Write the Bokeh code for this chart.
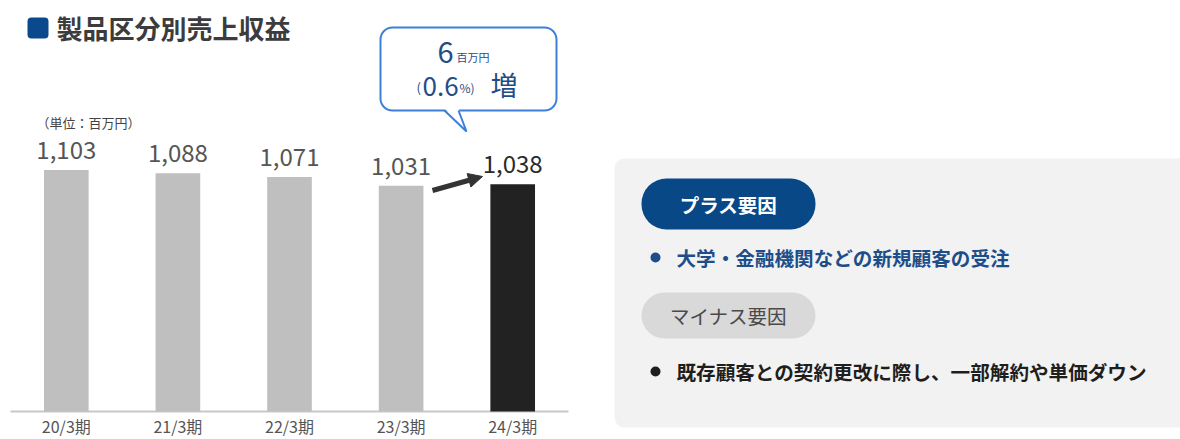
from bokeh.plotting import figure
from bokeh.models import (ColumnDataSource, Range1d, Label, FixedTicker,
                          BoxAnnotation, Arrow, NormalHead)
from bokeh.core.properties import value
from bokeh.embed import file_html
from bokeh.resources import INLINE

# ---------------- data ----------------
periods = ["20/3期", "21/3期", "22/3期", "23/3期", "24/3期"]
revenue = [1103, 1088, 1071, 1031, 1038]
title_text = "製品区分別売上収益"
unit_text = "（単位：百万円）"
change_amount = "6"
change_unit = "百万円"
change_pct = "0.6"
change_word = "増"
plus_label = "プラス要因"
plus_items = ["大学・金融機関などの新規顧客の受注"]
minus_label = "マイナス要因"
minus_items = ["既存顧客との契約更改に際し、一部解約や単価ダウン"]

# ---------------- styles / layout ----------------
FONT = value("Noto Sans CJK JP")
FONT_NAME = "Noto Sans CJK JP"
GRAY_BAR = "#bfbfbf"
DARK_BAR = "#222222"
NAVY = "#0a4a8c"
CALLOUT_TEXT = "#1f4e87"

W, H = 1180, 439
CAT_LEFT, CAT_RIGHT = 10, 568     # pixel extent of the category band
BASE_Y = 411                      # pixel row of the zero line
PX_PER_UNIT = 241.5 / 1103        # vertical scale (pixels per 百万円)

n = len(periods)
xpos = [i + 0.5 for i in range(n)]
bar_colors = [GRAY_BAR] * (n - 1) + [DARK_BAR]
label_colors = ["#555555"] * (n - 1) + ["#2a2a2a"]
src = ColumnDataSource(dict(x=xpos, period=periods, revenue=revenue,
                            label=[f"{v:,}" for v in revenue],
                            color=bar_colors, tcolor=label_colors))

cat_px = (CAT_RIGHT - CAT_LEFT) / n
x_start = -CAT_LEFT / cat_px
x_end = n + (W - CAT_RIGHT) / cat_px
y_start = -(H - BASE_Y) / PX_PER_UNIT
y_end = BASE_Y / PX_PER_UNIT

p = figure(width=W, height=H, x_range=Range1d(x_start, x_end),
           y_range=Range1d(y_start, y_end), output_backend="svg",
           toolbar_location=None, y_axis_location=None,
           min_border_left=0, min_border_right=0, min_border_top=0,
           min_border_bottom=0)
p.extra_x_ranges = {"px": Range1d(0, W)}
p.extra_y_ranges = {"px": Range1d(H, 0)}
p.outline_line_color = None
p.xgrid.visible = False
p.ygrid.visible = False
p.background_fill_color = "white"
p.border_fill_color = "white"

ax = p.xaxis[0]
ax.fixed_location = 0
ax.ticker = FixedTicker(ticks=xpos)
ax.major_label_overrides = {x: lab for x, lab in zip(xpos, periods)}
ax.axis_line_color = None
ax.major_tick_line_color = None
ax.minor_tick_line_color = None
ax.major_tick_out = 0
ax.major_tick_in = 0
ax.major_label_standoff = 2
ax.major_label_text_font_size = "16px"
ax.major_label_text_color = "#555555"
ax.major_label_text_font = FONT_NAME

# baseline spanning the category band
p.line(x=[0, n], y=[0, 0], line_color="#c8c8c8", line_width=2)

p.vbar(x="x", top="revenue", width=0.4, fill_color="color",
       line_color=None, source=src)
p.text(x="x", y="revenue", text="label", source=src,
       text_align="center", text_baseline="middle", y_offset=-20,
       text_font_size="24px", text_color="tcolor", text_font=FONT)

PX = dict(x_range_name="px", y_range_name="px")

# title
p.add_layout(BoxAnnotation(left=27, right=48, top=17, bottom=38,
                           fill_color=NAVY, fill_alpha=1, line_color=None,
                           border_radius=4, **PX))
p.add_layout(Label(x=56, y=27, text=title_text, text_baseline="middle",
                   text_font=FONT_NAME, text_font_size="26px",
                   text_font_style="bold", text_color="#3c3c3c", **PX))
# unit
p.add_layout(Label(x=36, y=122, text=unit_text, text_baseline="middle",
                   text_font=FONT_NAME, text_font_size="13px",
                   text_color="#444444", **PX))

# callout
p.add_layout(BoxAnnotation(left=380, right=556, top=27, bottom=110,
                           fill_color="white", fill_alpha=1,
                           line_color="#3d7fd9", line_alpha=1, line_width=2,
                           border_radius=12, **PX))
tail = p.patch(x=[444, 466, 458], y=[108, 131, 108], fill_color="white",
               line_color=None, **PX)
tail.level = "overlay"
tl = p.line(x=[444, 466, 458], y=[110, 131, 110], line_color="#3d7fd9",
            line_width=2, **PX)
tl.level = "overlay"

def lab(x, y, t, size, align="left", color=CALLOUT_TEXT, style="normal"):
    p.add_layout(Label(x=x, y=y, text=t, text_align=align,
                       text_baseline="middle", text_font=FONT_NAME,
                       text_font_size=size, text_color=color,
                       text_font_style=style, **PX))

lab(437, 52, change_amount, "29px")
lab(456, 56, change_unit, "11px")
lab(416, 87, "(", "13px")
lab(422, 86, change_pct, "26px")
lab(459, 87, "%)", "12px")
lab(490, 84, change_word, "27px")

# arrow between last two bars
p.add_layout(Arrow(x_start=432, y_start=190, x_end=482, y_end=176,
                   line_color="#333333", line_width=5,
                   end=NormalHead(size=14, fill_color="#333333",
                                  line_color="#333333"), **PX))

# ---------------- right: factors panel ----------------
p.add_layout(BoxAnnotation(left=614, right=1230, top=158, bottom=427,
                           fill_color="#f2f2f2", fill_alpha=1,
                           line_color=None, border_radius=10, **PX))
p.add_layout(BoxAnnotation(left=641, right=815, top=178, bottom=229,
                           fill_color="#084887", fill_alpha=1,
                           line_color=None, border_radius=25, **PX))
p.add_layout(BoxAnnotation(left=641, right=815, top=292, bottom=338,
                           fill_color="#d9d9d9", fill_alpha=1,
                           line_color=None, border_radius=23, **PX))

p.add_layout(Label(x=728, y=204, text=plus_label, text_align="center",
                   text_baseline="middle", text_font=FONT_NAME,
                   text_font_size="19.5px", text_font_style="bold",
                   text_color="white", **PX))
p.add_layout(Label(x=728, y=315, text=minus_label, text_align="center",
                   text_baseline="middle", text_font=FONT_NAME,
                   text_font_size="19.5px", text_color="#4a4a4a", **PX))

item_rows = [(257, plus_items[0], "#1d4e89"), (371, minus_items[0], "#1e1e1e")]
for yy, txt, col in item_rows:
    dot = p.scatter(x=[655], y=[yy], size=10, marker="circle", fill_color=col,
                    line_color=None, **PX)
    dot.level = "overlay"
    p.add_layout(Label(x=676, y=yy, text=txt, text_baseline="middle",
                       text_font=FONT_NAME, text_font_size="19.6px",
                       text_font_style="bold", text_color=col, **PX))

open("out.html", "w").write(file_html(p, INLINE))
